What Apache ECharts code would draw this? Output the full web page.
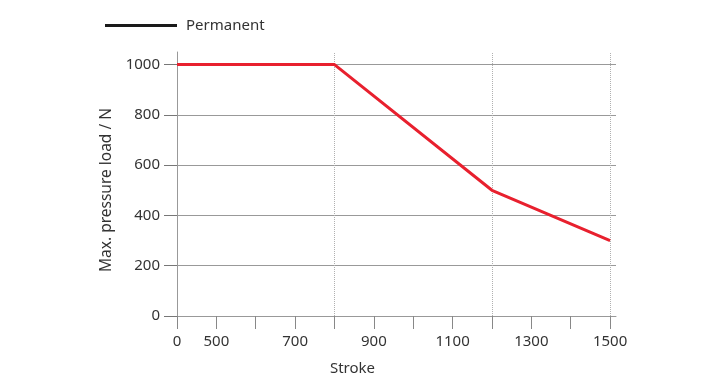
<!DOCTYPE html>
<html>
<head>
<meta charset="utf-8">
<script src="https://cdn.jsdelivr.net/npm/echarts@6/dist/echarts.min.js"></script>
<style>html,body{margin:0;padding:0;background:#fff}#c{width:725px;height:391px}</style>
</head>
<body>
<div id="c"></div>
<script>
// Tick positions of the (piecewise) stroke axis, evenly spaced
var xTicks = [0, 500, 600, 700, 800, 900, 1000, 1100, 1200, 1300, 1400, 1500];
var xLabelsShown = [0, 500, 700, 900, 1100, 1300, 1500];
var yTicks = [0, 200, 400, 600, 800, 1000];
// Series: Permanent
var stroke = [0, 800, 1200, 1500];
var load = [1000, 1000, 500, 300];
// Dotted reference lines
var markStrokes = [800, 1200, 1500];

function pos(v) { return xTicks.indexOf(v); }

var chart = echarts.init(document.getElementById('c'), null, {renderer: 'canvas'});
var font = 'Noto Sans';
chart.setOption({
  animation: false,
  legend: {
    left: 100, top: 13,
    itemWidth: 72, itemHeight: 3, itemGap: 10, padding: 5,
    textStyle: {fontFamily: font, fontSize: 15, color: '#333', padding: [0, 0, 0, 4]},
    data: [{name: 'Permanent', icon: 'rect', itemStyle: {color: '#1a1a1a'}}],
    selectedMode: false
  },
  grid: {left: 177, right: 109, top: 52, bottom: 75, containLabel: false},
  xAxis: {
    type: 'value', min: 0, max: 11.15,
    name: 'Stroke', nameLocation: 'middle', nameGap: 45,
    nameTextStyle: {fontFamily: font, fontSize: 15, color: '#333', padding: [0, 88, 0, 0]},
    axisLine: {show: true, lineStyle: {color: '#999', width: 1}},
    axisTick: {show: true, length: 13, customValues: xTicks.map(pos), lineStyle: {color: '#888', width: 1}},
    axisLabel: {
      customValues: xLabelsShown.map(pos), margin: 18,
      fontFamily: font, fontSize: 15, color: '#333',
      formatter: function (v) { return String(xTicks[Math.round(v)]); }
    },
    splitLine: {show: false}
  },
  yAxis: {
    type: 'value', min: 0, max: 1050,
    name: 'Max. pressure load / N', nameLocation: 'middle', nameGap: 50, nameRotate: 90,
    nameTextStyle: {fontFamily: font, fontSize: 15.5, color: '#333', padding: [0, 12, 0, 0]},
    axisLine: {show: true, lineStyle: {color: '#999', width: 1}},
    axisTick: {show: true, length: 13, customValues: yTicks, lineStyle: {color: '#777', width: 1}},
    axisLabel: {
      customValues: yTicks, margin: 17, fontFamily: font, fontSize: 15, color: '#333',
      formatter: function (v) { return String(v); }
    },
    splitLine: {show: true, lineStyle: {color: '#999', width: 1}}
  },
  series: [{
    name: 'Permanent',
    type: 'line',
    showSymbol: false,
    symbol: 'none',
    z: 5,
    lineStyle: {color: '#e8202e', width: 3},
    itemStyle: {color: '#e8202e'},
    data: stroke.map(function (s, i) { return [pos(s), load[i]]; }),
    markLine: {
      silent: true, symbol: 'none', z: 1,
      label: {show: false},
      lineStyle: {color: '#b0b0b0', type: 'dotted', width: 1},
      data: markStrokes.map(function (s) { return {xAxis: pos(s)}; })
    }
  }]
});
</script>
</body>
</html>
